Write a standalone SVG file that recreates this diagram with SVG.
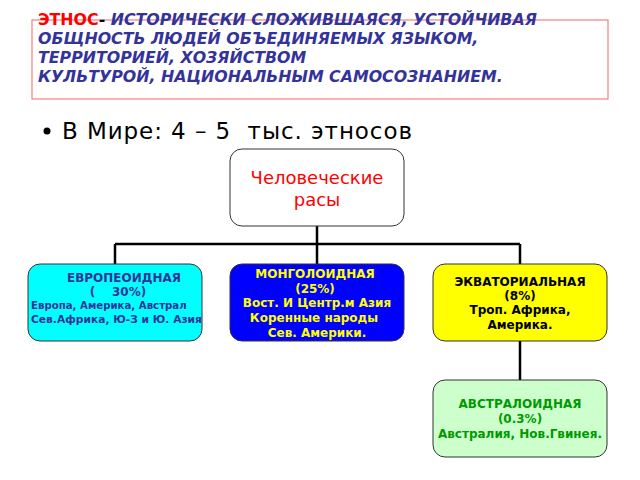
<svg xmlns="http://www.w3.org/2000/svg" width="640" height="480" viewBox="0 0 640 480">
<style>
text{white-space:pre}
.t{font-family:"DejaVu Sans",sans-serif;font-weight:bold;font-style:italic;font-size:15.8px;fill:#333399}
.n{font-family:"DejaVu Sans",sans-serif;font-weight:bold;font-size:12px;text-anchor:middle}
.s{font-family:"DejaVu Sans",sans-serif;font-weight:bold;font-size:10.2px;fill:#333399}
.b{stroke:#333;stroke-width:1}
.c{stroke:#000;stroke-width:2.5;fill:none}
</style>
<rect width="640" height="480" fill="#fff"/>
<g id="title">
<rect x="32" y="20" width="576" height="79" fill="none" stroke="#f08080" stroke-width="1.2"/>
<text class="t" x="38" y="25"><tspan fill="#ff0000" font-style="normal">ЭТНОС</tspan><tspan fill="#000" font-style="normal">- </tspan>ИСТОРИЧЕСКИ СЛОЖИВШАЯСЯ, УСТОЙЧИВАЯ</text>
<text class="t" x="38" y="44">ОБЩНОСТЬ ЛЮДЕЙ ОБЪЕДИНЯЕМЫХ ЯЗЫКОМ,</text>
<text class="t" x="38" y="63">ТЕРРИТОРИЕЙ, ХОЗЯЙСТВОМ</text>
<text class="t" x="38" y="82">КУЛЬТУРОЙ, НАЦИОНАЛЬНЫМ САМОСОЗНАНИЕМ.</text>
</g>
<g id="bullet">
<circle cx="47" cy="131" r="3.5" fill="#000"/>
<text x="62" y="139" font-family="DejaVu Sans,sans-serif" font-size="23" fill="#000" textLength="350">В Мире: 4 – 5  тыс. этносов</text>
</g>
<g id="connectors">
<path class="c" d="M317 226V244M115 244H520M115 244V264M317 244V264M520 244V264M520 341V380"/>
</g>
<g id="races">
<rect class="b" x="230" y="149" width="174" height="77" rx="12" fill="#fff"/>
<text x="317" y="184" font-family="DejaVu Sans,sans-serif" font-size="18" fill="#ff0000" text-anchor="middle">Человеческие</text>
<text x="317" y="206" font-family="DejaVu Sans,sans-serif" font-size="18" fill="#ff0000" text-anchor="middle">расы</text>
</g>
<g id="europ">
<rect class="b" x="28" y="264" width="174" height="77" rx="12" fill="#00ffff"/>
<text class="n" fill="#333399" x="124" y="282">ЕВРОПЕОИДНАЯ</text>
<text class="n" fill="#333399" x="118" y="296">(    30%)</text>
<text class="s" x="31" y="309">Европа, Америка, Австрал</text>
<text class="s" x="31" y="323" textLength="171" lengthAdjust="spacingAndGlyphs">Сев.Африка, Ю-З и Ю. Азия</text>
</g>
<g id="mongol">
<rect class="b" x="230" y="264" width="174" height="77" rx="12" fill="#0000ff"/>
<text class="n" fill="#ffff00" x="315" y="278">МОНГОЛОИДНАЯ</text>
<text class="n" fill="#ffff00" x="315" y="293">(25%)</text>
<text class="n" fill="#ffff00" x="317" y="307">Вост. И Центр.м Азия</text>
<text class="n" fill="#ffff00" x="314" y="322">Коренные народы</text>
<text class="n" fill="#ffff00" x="317" y="337">Сев. Америки.</text>
</g>
<g id="equat">
<rect class="b" x="433" y="264" width="174" height="77" rx="12" fill="#ffff00"/>
<text class="n" fill="#000" x="520" y="286">ЭКВАТОРИАЛЬНАЯ</text>
<text class="n" fill="#000" x="520" y="300">(8%)</text>
<text class="n" fill="#000" x="520" y="314">Троп. Африка,</text>
<text class="n" fill="#000" x="520" y="329">Америка.</text>
</g>
<g id="austral">
<rect class="b" x="433" y="380" width="174" height="77" rx="12" fill="#ccffcc"/>
<text class="n" fill="#009900" x="520" y="408">АВСТРАЛОИДНАЯ</text>
<text class="n" fill="#009900" x="520" y="423">(0.3%)</text>
<text class="n" fill="#009900" x="520" y="438">Австралия, Нов.Гвинея.</text>
</g>
</svg>
